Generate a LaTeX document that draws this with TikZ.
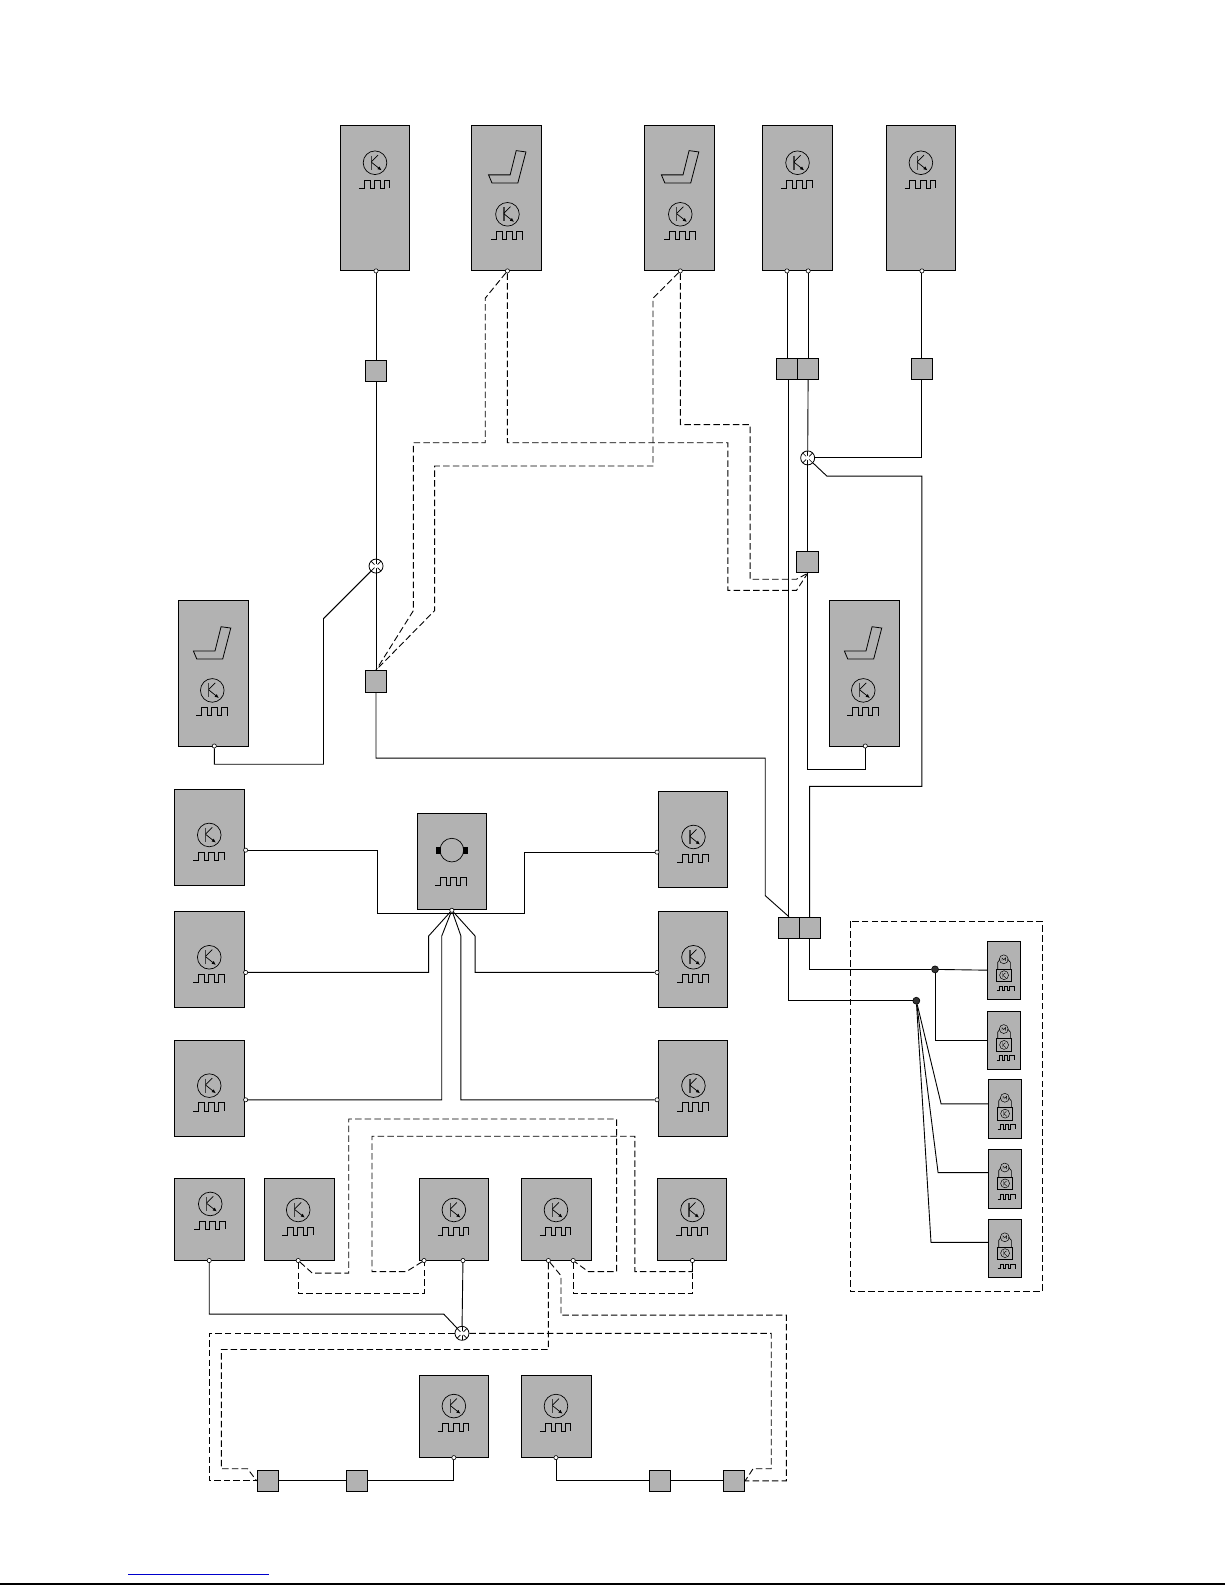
\documentclass[tikz,border=0pt]{standalone}
\usetikzlibrary{arrows.meta}
\definecolor{boxgray}{gray}{0.7}
\definecolor{linkblue}{RGB}{0,0,204}
\tikzset{
  unit/.style={draw, fill=boxgray, line width=0.9pt, inner sep=0pt, minimum width=69.8pt},
  tallunit/.style={unit, minimum height=145.5pt},
  midunit/.style={unit, minimum height=96pt},
  lowunit/.style={unit, minimum height=81.9pt},
  smallunit/.style={unit, line width=0.7pt, minimum width=32.3pt, minimum height=58.6pt},
  relay/.style={draw, fill=boxgray, line width=0.9pt, inner sep=0pt, minimum size=21.5pt},
  port/.style={circle, draw, fill=white, line width=0.6pt, inner sep=0pt, minimum size=4.2pt},
  dot/.style={circle, draw, fill=black!80, line width=0.6pt, inner sep=0pt, minimum size=7pt},
  junc/.style={circle, draw, fill=white, line width=0.8pt, inner sep=0pt, minimum size=14pt,
    path picture={
      \draw[line width=0.7pt] (path picture bounding box.north) -- (path picture bounding box.south);
      \draw[line width=0.7pt] (path picture bounding box.north west) -- (path picture bounding box.south east);
      \draw[line width=0.7pt] (path picture bounding box.north east) -- (path picture bounding box.south west);
      \fill (path picture bounding box.center) circle (2.2pt);
    }},
  wire/.style={line width=0.9pt},
  sig/.style={line width=0.9pt, dash pattern=on 6.5pt off 3.2pt},
  pics/pulse/.style={code={
    \draw[line width=0.7pt] (-16,25) -- (-11,25) -- (-11,17) -- (-5,17) -- (-5,25) -- (-1,25)
      -- (-1,17) -- (5,17) -- (5,25) -- (9,25) -- (9,17) -- (14.5,17) -- (14.5,25);
  }},
  pics/ctrl/.style={code={
    \draw[line width=0.7pt] (0,0) circle (11.7);
    \draw[line width=1.3pt, black!75] (-3.5,-7) -- (-3.5,7);
    \draw[line width=0.7pt] (-3.5,-1) -- (3,-7.5);
    \draw[line width=0.7pt, -{Latex[length=4pt,width=3.6pt]}] (-3.5,-0.5) -- (6.5,7.5);
    \pic {pulse};
  }},
  pics/seat/.style={code={
    \draw[line width=0.8pt] (-18.7,-39) -- (2.7,-39) -- (8.7,-63) -- (18.3,-61.7) -- (10.3,-31) -- (-15.3,-31) -- cycle;
  }},
  pics/mini/.style={code={
    \draw[line width=0.5pt] (0,-11) circle (4.4);
    \draw[line width=0.4pt] (-1.8,-9.5) -- (-1.8,-12.5) -- (0,-10.5) -- (1.8,-12.5) -- (1.8,-9.5);
    \draw[line width=0.6pt] (-6,-1.5) -- (-6,-8) -- (-3.8,-11) (3.8,-11) -- (6.5,-8) -- (6.5,-1.5);
    \draw[line width=0.6pt] (-7,-1.5) rectangle (7.5,11);
    \draw[line width=0.5pt] (0.3,4.7) circle (4.4);
    \draw[line width=0.4pt] (-1,2.3) -- (-1,7) (-1,4.7) -- (1.6,2.5) (-1,4.7) -- (2,7.3);
    \draw[line width=0.7pt] (-7,20) -- (-4.5,20) -- (-4.5,15.5) -- (-1.5,15.5) -- (-1.5,20) -- (0.5,20)
      -- (0.5,15.5) -- (3.5,15.5) -- (3.5,20) -- (5.5,20) -- (5.5,15.5) -- (10,15.5) -- (10,20);
  }},
}

\begin{document}
\begin{tikzpicture}[x=1.0108pt, y=-1.0108pt]

\useasboundingbox (0,0) rectangle (1212,1568);

% Top and seat units
\foreach \name/\x/\y in {t1/371/196, t2/501/196, t3/672.5/196, t4/788.5/196, t5/911/196, sl/211/666, sr/855/666}
  \node[tallunit] (\name) at (\x,\y) {};

% Units round the motor
\foreach \name/\x/\y in {a1/207/828.5, a2/207/949, a3/207/1076.5, b1/685.5/830.5, b2/685.5/949, b3/685.5/1076.5}
  \node[midunit] (\name) at (\x,\y) {};
\node[midunit, minimum width=68.8pt] (mot) at (447,852) {};

% Lower units
\foreach \name/\x/\y in {r1/207/1206.5, r2/296/1206.5, r3/449/1206.5, r4/550.5/1206.5, r5/684.5/1206.5, u1/449/1401.5, u2/550.5/1401.5}
  \node[lowunit] (\name) at (\x,\y) {};

% Small units in the dashed frame
\draw[sig] (841,911.5) rectangle (1031,1277.5);
\foreach \name/\x/\y in {k1/993/960, k2/993/1029, k3/994/1097, k4/994/1166, k5/994/1235} {
  \node[smallunit] (\name) at (\x,\y) {};
  \pic at (\x,\y) {mini};
}

% Icons
\foreach \x/\y in {371/161, 789/161, 911/161, 207/826, 207/947, 207/1074, 686/828, 686/947, 686/1074, 208/1191, 295/1197, 449/1197, 550/1197, 685/1197, 449/1391, 550/1391}
  \pic at (\x,\y) {ctrl};
\foreach \x/\y in {502/212, 673/212, 210/683, 854/683} {
  \pic at (\x,\y) {ctrl};
  \pic at (\x,\y) {seat};
}
\draw[line width=0.7pt] (447,841) circle (11.7);
\fill (431.5,837.5) rectangle (436,845);
\fill (458,837.5) rectangle (462.5,845);
\pic at (446.5,851) {pulse};

% Relays
\foreach \name/\x/\y in {q1/372/367, q2/779/365, q3/799.5/365, q4/912/365, q5/799/556, q6/372/674, q7/780.5/918, q8/801.5/918, q9/265/1465, q10/353/1465, q11/653/1465, q12/726/1465}
  \node[relay] (\name) at (\x,\y) {};

% Junctions
\node[junc] (j1) at (372,560) {};
\node[junc] (j2) at (799,453) {};
\node[junc] (j3) at (457,1319) {};
\node[dot] (d1) at (925,959) {};
\node[dot] (d2) at (906.5,990) {};

% Ports
\foreach \name/\x/\y in {t1p/372/268, t2p/502/268, t3p/673/268, t4a/778.5/268, t4b/799.5/268, t5p/912/268, slp/212/738, srp/856/738,
  a1p/243/841, a2p/243/962, a3p/243/1088, b1p/650/843, b2p/650/962, b3p/650/1088, motp/447/900.5,
  r1p/207/1247, r2p/295/1247, r3a/419.5/1247, r3b/458/1247, r4a/542.5/1247, r4b/567/1247, r5p/685/1247, u1p/449/1442, u2p/550/1442}
  \node[port] (\name) at (\x,\y) {};

% Solid wires at the top
\draw[wire] (t1p) -- (q1);
\draw[wire] (q1) -- (j1);
\draw[wire] (j1) -- (q6);
\draw[wire] (slp) |- (320,756) -- (320,612) -- (j1);
\draw[wire, line width=0.6pt] (t4a) -- (q2.north -| t4a);
\draw[wire] (t4b) -- (q3);
\draw[wire] (t5p) -- (q4);
\draw[wire] (q4) |- (j2);
\draw[wire] (q3) -- (j2);
\draw[wire] (j2) -- (q5);
\draw[wire] (q5) -- (799,761) -| (srp);
\draw[wire] (j2) -- (818,471) -- (912,471) -- (912,778) -- (801,778) -- (q8.north -| 801,778);
\draw[wire] (q2.south -| 780,0) -- (q7.north -| 780,0);
\draw[wire] (q6) |- (757,750) -- (757,886) -- (q7.north);

% Dashed wires at the top
\draw[sig] (t2p) -- (480,295) -- (480,438) -- (409,438) -- (409,604) -- (q6.north);
\draw[sig] (t2p) -- (502,438) -- (720,438) -- (720,584) -- (788,584) -- (q5.south);
\draw[sig] (t3p) -- (646,295) -- (646,461) -- (430,461) -- (430,604) -- (q6.north);
\draw[sig] (t3p) -- (673,420) -- (742,420) -- (742,573) -- (788,573) -- (q5.south);

% Wires round the motor
\draw[wire] (a1p) -| (373,904) -- (519,904) |- (b1p);
\draw[wire] (a2p) -| (424,926) -- (motp);
\draw[wire] (b2p) -| (470,926) -- (motp);
\draw[wire] (a3p) -| (437,926) -- (motp);
\draw[wire] (b3p) -| (456,926) -- (motp);

% Wires in the dashed frame
\draw[wire] (q7.south -| 780,0) |- (d2);
\draw[wire] (q8.south -| 801,0) |- (d1);
\draw[wire] (d1) -- (k1);
\draw[wire] (d1) |- (k2);
\draw[wire] (d2) -- (931,1092) -- (k3.west |- 931,1092);
\draw[wire] (d2) -- (928,1160) -- (k4.west |- 928,1160);
\draw[wire] (d2) -- (921,1229) -- (k5.west |- 921,1229);

% Lower solid wires
\draw[wire] (r1p) |- (439,1300) -- (j3);
\draw[wire] (r3b) -- (j3);
\draw[wire] (u1p) |- (q10);
\draw[wire] (q10) -- (q9);
\draw[wire] (u2p) |- (q11);
\draw[wire] (q11) -- (q12);

% Lower dashed wires
\draw[sig] (r2p) |- (r3a |- 0,1280) -- (r3a);
\draw[sig] (r2p) -- (309,1259.5) -- (345,1259.5) -- (345,1107) -- (610,1107) -- (610,1258) -- (582,1258) -- (r4b);
\draw[sig] (r3a) -- (402,1258) -- (368,1258) -- (368,1124) -- (628,1124) -- (628,1258) -- (685,1258) -- (r5p);
\draw[sig] (r4b) |- (r5p |- 0,1280) -- (r5p);
\draw[sig] (j3) -- (207,1319) |- (q9);
\draw[sig] (j3) -- (763,1319) -- (763,1453) -- (745,1453) -- (q12.east);
\draw[sig] (r4a) |- (219,1335) -- (219,1453) -- (245,1453) -- (q9.west);
\draw[sig] (r4a) -- (555,1262) -- (555,1301) -- (778,1301) |- (q12);

% Page rules
\coordinate (blueA) at (127,1558);
\coordinate (blueB) at (266,1558);
\draw[linkblue, line width=1pt] (blueA) -- (blueB);
\coordinate (ruleA) at (0,1567);
\coordinate (ruleB) at (1212,1567);
\draw[line width=1.5pt] (ruleA) -- (ruleB);

\end{tikzpicture}
\end{document}
